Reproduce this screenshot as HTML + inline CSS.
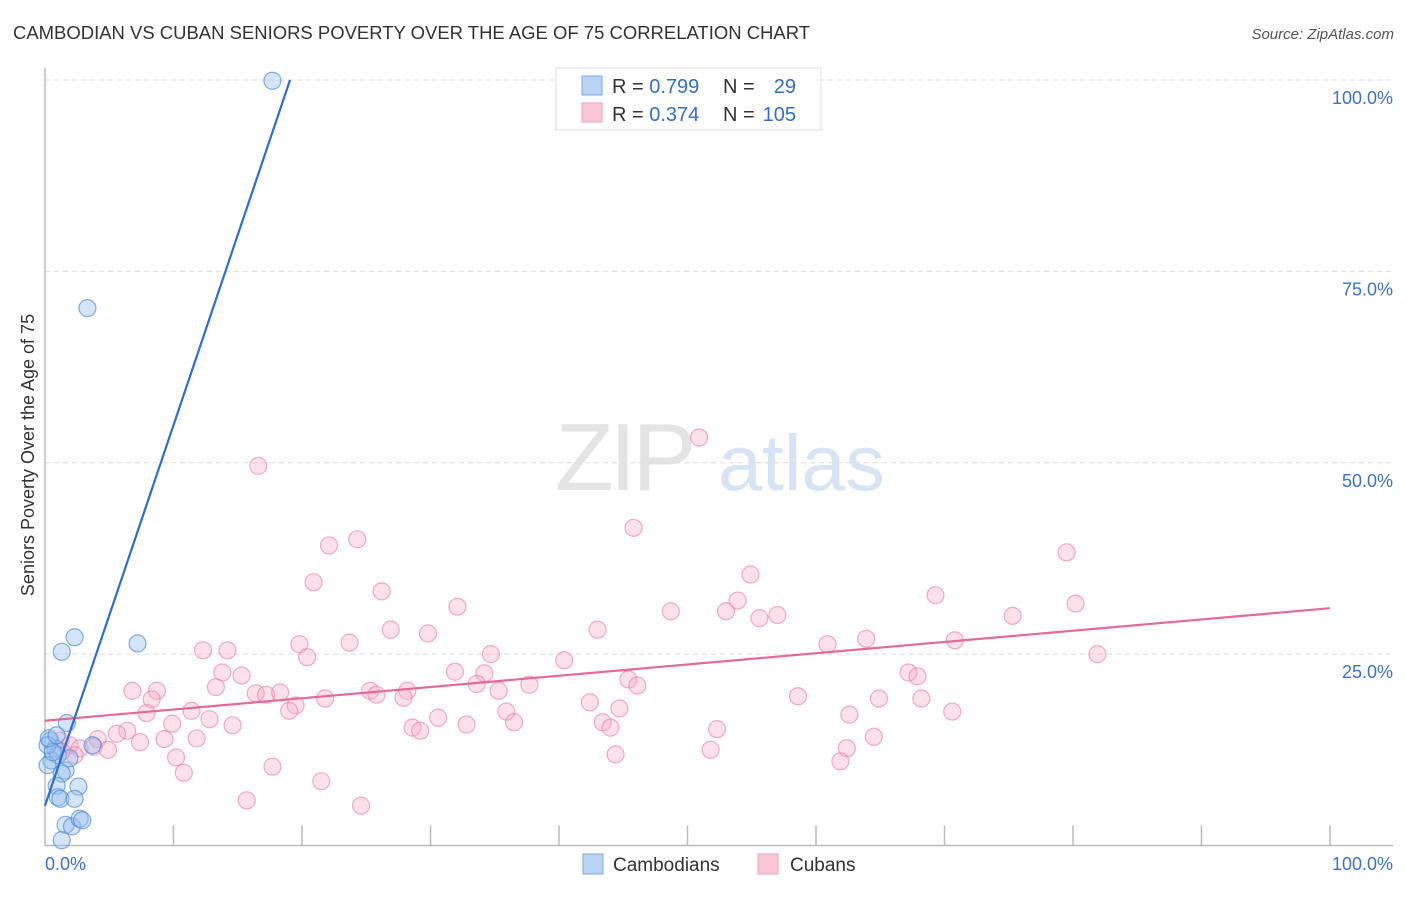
<!DOCTYPE html>
<html><head><meta charset="utf-8">
<style>
body{margin:0;background:#fff;font-family:"Liberation Sans",sans-serif;}
svg text{font-family:"Liberation Sans",sans-serif;}
</style></head>
<body>
<svg id="chart" width="1406" height="892" xmlns="http://www.w3.org/2000/svg">
<text x="13" y="39" font-size="18" fill="#333" textLength="797" lengthAdjust="spacingAndGlyphs">CAMBODIAN VS CUBAN SENIORS POVERTY OVER THE AGE OF 75 CORRELATION CHART</text>
<text x="1394" y="39" font-size="15" fill="#555" text-anchor="end" font-style="italic">Source: ZipAtlas.com</text>
<g>
<text x="555" y="490" font-size="96" fill="#e4e4e4" font-family="Liberation Serif" letter-spacing="-4">ZIP</text>
<text x="718" y="490" font-size="79" fill="#d6e4f5">atlas</text>
</g>
<g id="grid"></g>
<g id="axes"></g>
<g id="pts"></g>
<g id="lines"></g>
<text transform="translate(34,455) rotate(-90)" font-size="18" fill="#333" text-anchor="middle">Seniors Poverty Over the Age of 75</text>
<g>
<rect x="556" y="68" width="265" height="62" fill="#fff" stroke="#ddd"/>
<rect x="582" y="76" width="20" height="19" fill="#b9d3f5" stroke="#7aa7e6"/>
<rect x="582" y="103" width="20" height="19" fill="#fbc8d8" stroke="#f09ab5"/>
<text x="612" y="93" font-size="20" fill="#333">R = <tspan fill="#2f6fd0">0.799</tspan></text>
<text x="723" y="93" font-size="20" fill="#333">N = </text><text x="796" y="93" font-size="20" fill="#2f6fd0" text-anchor="end">29</text>
<text x="612" y="121" font-size="20" fill="#333">R = <tspan fill="#2f6fd0">0.374</tspan></text>
<text x="723" y="121" font-size="20" fill="#333">N = </text><text x="796" y="121" font-size="20" fill="#2f6fd0" text-anchor="end">105</text>
</g>
<g>
<rect x="583" y="854" width="20" height="20" fill="#b9d3f5" stroke="#7aa7e6"/>
<text x="613" y="871" font-size="19" fill="#333">Cambodians</text>
<rect x="758" y="854" width="20" height="20" fill="#fbc8d8" stroke="#f09ab5"/>
<text x="790" y="871" font-size="19" fill="#333">Cubans</text>
</g>
</svg>
<script>
const yTicks=[25,50,75,100];
const yTickLabels=["25.0%","50.0%","75.0%","100.0%"];
const xTicks=[0,10,20,30,40,50,60,70,80,90,100];
const xEndLabels=["0.0%","100.0%"];
const cambX=[17.7,3.3,2.3,1.3,7.2,1.7,3.7,0.4,0.8,0.5,1.0,1.6,0.2,1.3,2.6,0.9,1.0,1.2,2.3,1.6,2.1,2.7,2.9,1.3,0.2,0.6,0.3,1.9,0.9];
const cambY=[99.9,70.2,27.2,25.3,26.4,16.0,13.1,13.7,12.7,11.1,11.8,9.8,10.5,9.4,7.7,7.8,6.3,6.1,6.1,2.7,2.5,3.5,3.3,0.7,13.1,12.2,14.0,11.4,14.4];
const cubX=[50.9,16.6,45.8,79.5,24.3,22.1,20.9,26.2,32.1,80.2,54.9,53.9,48.7,53.0,57.0,55.6,69.3,75.3,26.9,29.8,43.0,63.9,19.8,23.7,14.2,12.3,20.4,34.7,70.8,60.9,81.9,40.4,31.9,34.2,13.8,15.3,45.4,67.2,67.9,37.7,46.1,6.8,8.7,13.3,16.4,17.2,18.3,25.3,25.8,28.2,27.9,33.6,35.3,21.8,58.6,64.9,68.2,8.3,42.4,11.4,7.9,19.5,19.0,35.9,44.7,70.6,62.6,30.6,12.8,9.9,14.6,32.8,36.5,43.4,44.0,28.6,29.2,52.3,6.4,5.6,4.1,11.8,9.3,7.4,64.5,1.2,1.9,2.7,3.8,4.9,62.4,51.8,44.4,10.2,2.3,1.3,17.7,10.8,61.9,21.5,15.7,24.6];
const cubY=[53.3,49.6,41.5,38.3,40.0,39.2,34.4,33.2,31.2,31.6,35.4,32.0,30.6,30.6,30.1,29.7,32.7,30.0,28.2,27.7,28.2,27.0,26.3,26.5,25.5,25.5,24.6,25.0,26.8,26.3,25.0,24.2,22.7,22.5,22.6,22.2,21.7,22.6,22.1,21.0,20.9,20.2,20.2,20.7,19.9,19.7,20.0,20.2,19.7,20.2,19.3,21.1,20.2,19.2,19.5,19.2,19.2,19.1,18.7,17.6,17.3,18.3,17.6,17.5,17.9,17.5,17.1,16.7,16.5,15.9,15.7,15.8,16.1,16.1,15.4,15.4,15.0,15.2,15.0,14.6,13.9,14.0,13.9,13.5,14.2,13.7,13.1,12.7,12.9,12.5,12.7,12.5,11.9,11.5,11.8,12.3,10.3,9.5,11.0,8.4,5.9,5.2];
const cambLineX=[0,19.07];const cambLineY=[5.2,100];
const cubLineX=[0,100];const cubLineY=[16.3,31.0];
const X0=45,X1=1330,Y0=845.5,Y1=80;
const sx=v=>X0+(X1-X0)*v/100, sy=v=>Y0-(Y0-Y1)*v/100;
const NS="http://www.w3.org/2000/svg";
function mk(parent,tag,attrs){const e=document.createElementNS(NS,tag);for(const k in attrs)e.setAttribute(k,attrs[k]);document.getElementById(parent).appendChild(e);return e;}
yTicks.forEach((t,i)=>{
 const g=mk('grid','line',{x1:X0,x2:1393,y1:sy(t),y2:sy(t),stroke:'#ddd','stroke-dasharray':'5,4'});
 
 
 const l=mk('grid','text',{x:1393,y:sy(t)+24,'font-size':18,fill:'#3a72cc','text-anchor':'end'});
 l.textContent=yTickLabels[i];
 
 
});
let a=mk('axes','line',{x1:X0,x2:X0,y1:68,y2:Y0,stroke:'#bbb','stroke-width':1.5});


a=mk('axes','line',{x1:X0,x2:1393,y1:Y0,y2:Y0,stroke:'#bbb','stroke-width':1.5});


xTicks.forEach(t=>{if(t===0)return;
 const k=mk('axes','line',{x1:sx(t),x2:sx(t),y1:Y0-20,y2:Y0,stroke:'#bbb','stroke-width':1.5});
 
 
});
let tl=mk('axes','text',{x:45,y:870,'font-size':18,fill:'#3a72cc'});tl.textContent=xEndLabels[0];


tl=mk('axes','text',{x:1393,y:870,'font-size':18,fill:'#3a72cc','text-anchor':'end'});tl.textContent=xEndLabels[1];


cubX.forEach((x,i)=>{
 const c=mk('pts','circle',{cx:sx(x),cy:sy(cubY[i]),r:8.5,fill:'rgba(248,170,195,0.35)',stroke:'rgba(232,120,160,0.6)','stroke-width':1.2});
 
 
});
cambX.forEach((x,i)=>{
 const c=mk('pts','circle',{cx:sx(x),cy:sy(cambY[i]),r:8.5,fill:'rgba(150,190,240,0.4)',stroke:'rgba(80,140,220,0.7)','stroke-width':1.2});
 
 
});
let ln=mk('lines','line',{x1:sx(cubLineX[0]),y1:sy(cubLineY[0]),x2:sx(cubLineX[1]),y2:sy(cubLineY[1]),stroke:'#e5689a','stroke-width':2.2});


ln=mk('lines','line',{x1:sx(cambLineX[0]),y1:sy(cambLineY[0]),x2:sx(cambLineX[1]),y2:sy(cambLineY[1]),stroke:'#2a6fd6','stroke-width':2.2});


</script>
</body></html>
